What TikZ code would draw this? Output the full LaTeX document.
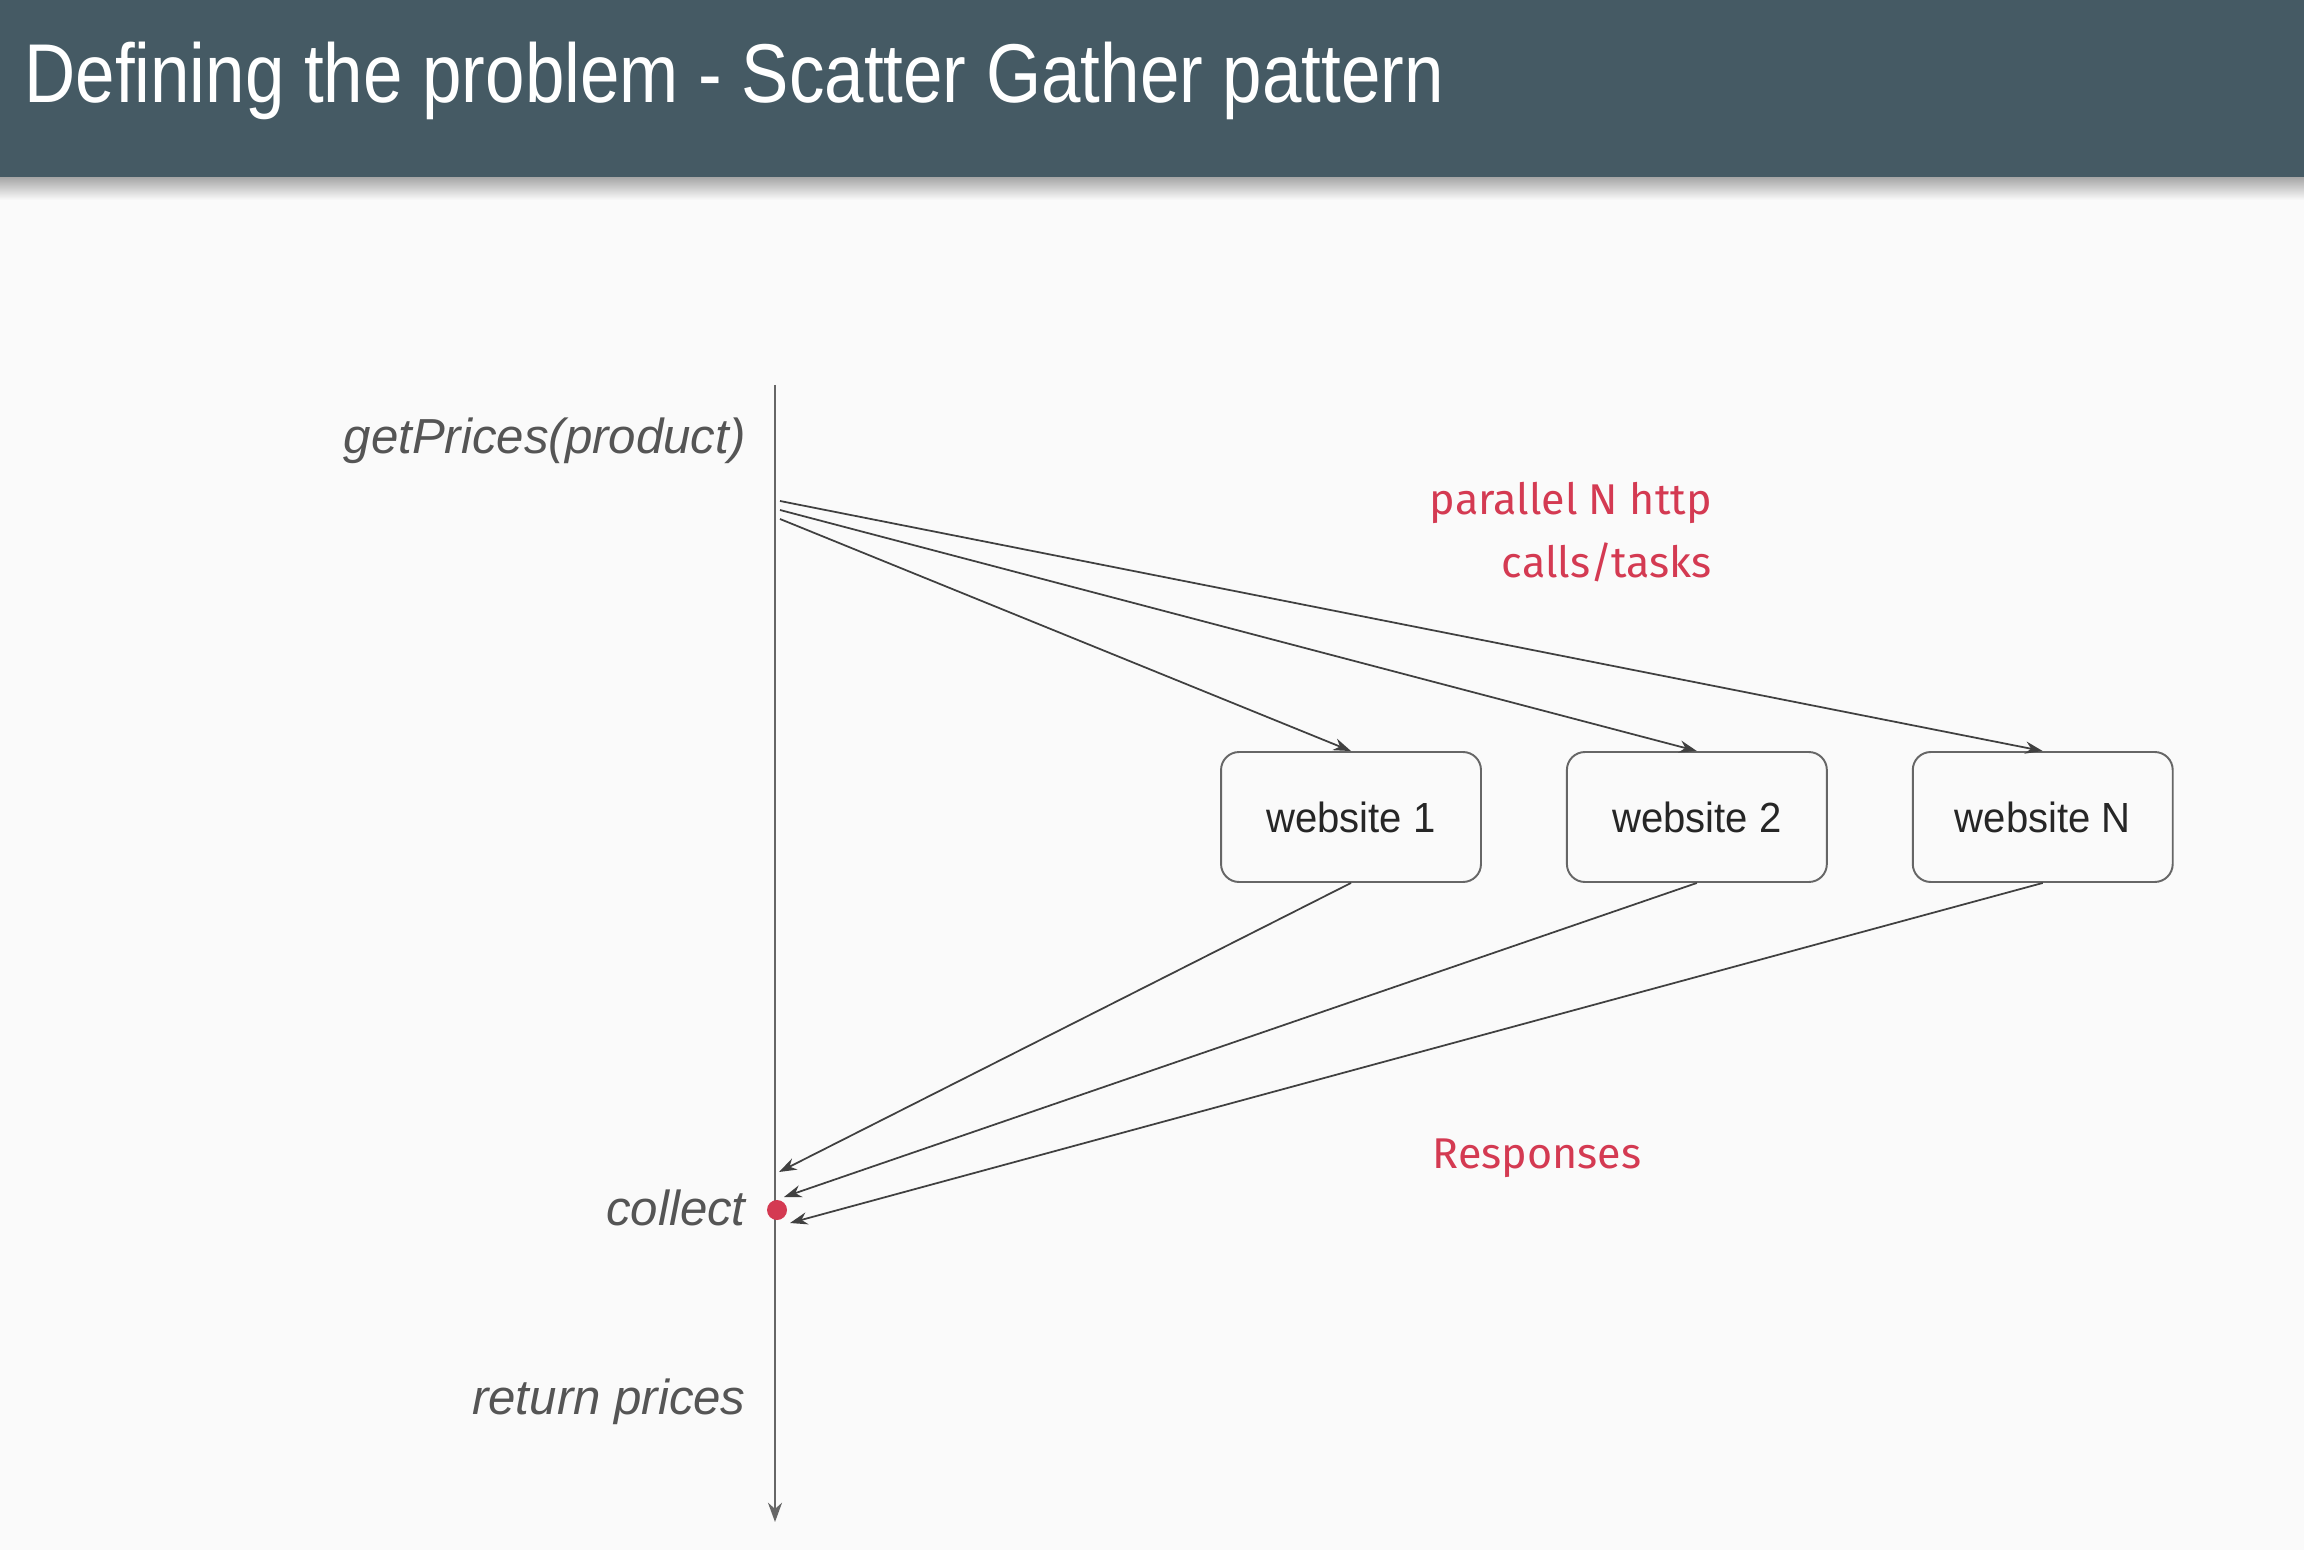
\documentclass[tikz,border=0pt]{standalone}
\usepackage{fontspec}
\setmainfont{Liberation Sans}
\newfontfamily\titlefont[FakeStretch=0.85]{Liberation Sans}
\newfontfamily\sitefont[FakeStretch=0.95]{Liberation Sans}
\newfontfamily\notefont{Fira Sans}
\usetikzlibrary{arrows.meta,positioning}

\definecolor{headbg}{HTML}{455A64}
\definecolor{pagebg}{HTML}{FAFAFA}
\definecolor{linegray}{HTML}{666666}
\definecolor{labelgray}{HTML}{555555}
\definecolor{notered}{HTML}{D43A52}

\begin{document}
\begin{tikzpicture}[x=0.02cm, y=-0.02cm,
    site/.style={draw=linegray, line width=1.1pt, rounded corners=0.36cm,
        minimum width=5.2cm, minimum height=2.6cm,
        font=\sitefont\fontsize{24}{28}\selectfont, text=black!85},
    call/.style={font=\itshape\fontsize{28}{34}\selectfont, text=labelgray,
        anchor=east, inner sep=0pt},
    note/.style={font=\notefont\fontsize{24.5}{36}\selectfont, text=notered,
        align=right, inner sep=0pt},
    msg/.style={draw=black!75, line width=1pt, -{Stealth[length=10pt,width=7pt]}}]
        % Background
        \fill [pagebg] (0,0) rectangle (2304,1550);
        \useasboundingbox (0,0) rectangle (2304,1550);
        % Header
        \shade [top color=black!35, bottom color=pagebg] (0,177) rectangle (2304,200);
        \fill [headbg] (0,0) rectangle (2304,177);
        \node [anchor=base west, text=white, inner sep=0pt,
               font=\titlefont\fontsize{47.5}{57}\selectfont] (title) at (24,103)
              {Defining the problem - Scatter Gather pattern};
        % Lifeline
        \coordinate (top) at (775,385);
        \coordinate (bottom) at (775,1522);
        \draw [draw=linegray, line width=1.2pt, -{Stealth[length=11pt,width=8pt]}] (top) -- (bottom);
        % Labels
        \node [call] (get) at (746,441) {getPrices(product)};
        \node [call] (collect) at (746,1208) {collect};
        \node [call] (ret) at (746,1402) {return prices};
        % Websites
        \node [site] (w1) at (1351,817) {website 1};
        \node [site, right=1.68cm of w1] (w2) {website 2};
        \node [site, right=1.68cm of w2] (wN) {website N};
        % Scatter and gather points
        \coordinate (s1) at (780,519);
        \coordinate (s2) at (780,510);
        \coordinate (sN) at (780,501);
        \coordinate (g1) at (779,1172);
        \coordinate (g2) at (784,1197);
        \coordinate (gN) at (790,1223);
        % Calls and responses
            \foreach \w/\s/\g in {w1/s1/g1, w2/s2/g2, wN/sN/gN}
        {
        \draw [msg] (\s) -- (\w.north);
        \draw [msg] (\w.south) -- (\g);
        }
        % Pointer
        \coordinate (dot) at (777,1210);
        \fill [notered] (dot) circle (0.2cm);
        % Notes
        \node [note, anchor=east] (par) at (1712,532) {parallel N http\\calls/tasks};
        \node [note] (resp) at (1537,1158) {Responses};
        \end{tikzpicture}
\end{document}
